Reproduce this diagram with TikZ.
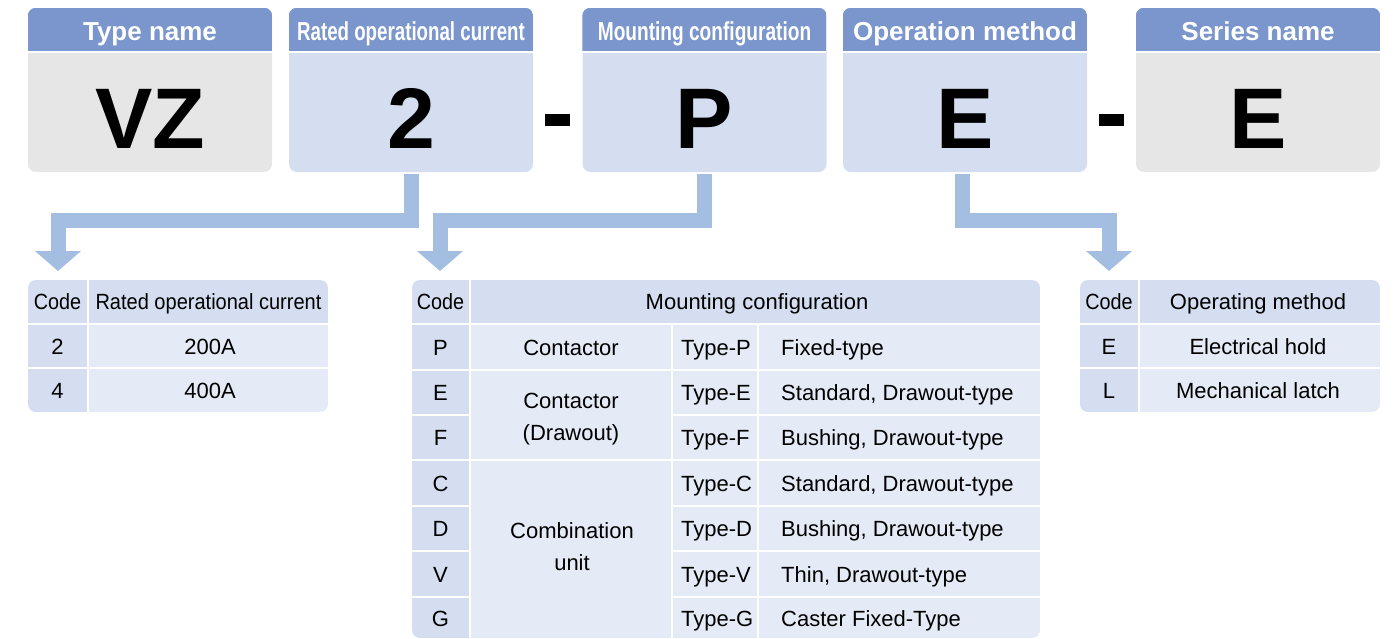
\documentclass[tikz,border=0pt]{standalone}
\usepackage{fontspec}
\setmainfont{Liberation Sans}
\usepackage{graphicx}
\usetikzlibrary{arrows.meta}
\definecolor{hdr}{HTML}{7A96CC}
\definecolor{bodyblue}{HTML}{D4DEF0}
\definecolor{bodygray}{HTML}{E6E6E6}
\definecolor{arrowc}{HTML}{A4BEE1}
\definecolor{celldark}{HTML}{D4DEF0}
\definecolor{celllight}{HTML}{E5EBF6}
\tikzset{
  topbox/.style={minimum width=244pt, minimum height=164pt, rounded corners=8pt, inner sep=0pt, draw=none},
  hdrtext/.style={text=white, font=\bfseries\fontsize{26}{30}\selectfont, anchor=base, inner sep=0pt},
  bigtext/.style={font=\bfseries\fontsize{86}{90}\selectfont, anchor=base, inner sep=0pt},
  celltext/.style={font=\fontsize{22}{26}\selectfont, anchor=base, inner sep=0pt},
  lefttext/.style={celltext, anchor=base west},
  dashbar/.style={fill=black, minimum width=25pt, minimum height=12pt, inner sep=0pt},
  bigarrow/.style={draw=arrowc, line width=15pt, -{Triangle[width=45pt,length=20pt]}, line join=miter},
}
\newcommand\tcell[5]{\fill[#5] (#1,#2) rectangle (#3,#4);}
\begin{document}
\begin{tikzpicture}[x=1pt,y=-1pt]
\useasboundingbox (0,0) rectangle (1397,638);

% ---------- top boxes ----------
\foreach \n/\cx/\col in {b1/150/bodygray, b2/411/bodyblue, b3/704.5/bodyblue, b4/965/bodyblue, b5/1258/bodygray}{
  \node[topbox, fill=\col] (\n) at (\cx,90) {};
  \begin{scope}
    \clip[rounded corners=8pt] (\n.south west) rectangle (\n.north east);
    \fill[hdr] (\n.north west) rectangle ([yshift=-43pt]\n.north east);
    \fill[white] ([yshift=-43pt]\n.north west) rectangle ([yshift=-45pt]\n.north east);
  \end{scope}
}
\node[hdrtext] (h1) at (150,40) {Type name};
\node[hdrtext] (h2) at (411,40) {\scalebox{0.72}[1]{Rated operational current}};
\node[hdrtext] (h3) at (704.5,40) {\scalebox{0.735}[1]{Mounting configuration}};
\node[hdrtext] (h4) at (965,40) {Operation method};
\node[hdrtext] (h5) at (1258,40) {Series name};

\node[bigtext] (l1) at (150,148) {VZ};
\node[bigtext] (l2) at (411,148) {2};
\node[bigtext] (l3) at (704.5,148) {P};
\node[bigtext] (l4) at (965,148) {E};
\node[bigtext] (l5) at (1258,148) {E};

\node[dashbar] (d1) at (557.5,120) {};
\node[dashbar] (d2) at (1111,120) {};

% ---------- arrows ----------
\coordinate (a1) at (58,271);
\coordinate (a2) at (440,271);
\coordinate (a3) at (1109,271);
\draw[bigarrow] ([yshift=-2pt]b2.south) -- ++(0,46.5) -| (a1);
\draw[bigarrow] ([yshift=-2pt]b3.south) -- ++(0,46.5) -| (a2);
\draw[bigarrow] ([xshift=-3pt,yshift=-2pt]b4.south) -- ++(0,46.5) -| (a3);

% ---------- table 1 ----------
\begin{scope}
\clip[rounded corners=8pt] (28,280) rectangle (328,412);
\tcell{28}{280}{87}{323}{celldark}
\tcell{89}{280}{328}{323}{celldark}
\tcell{28}{325}{87}{367}{celldark}
\tcell{89}{325}{328}{367}{celllight}
\tcell{28}{369}{87}{412}{celldark}
\tcell{89}{369}{328}{412}{celllight}
\end{scope}
\node[celltext] (t1h1) at (57.5,309.5) {\scalebox{0.9}[1]{Code}};
\node[celltext] (t1h2) at (208.5,309.5) {\scalebox{0.91}[1]{Rated operational current}};
\node[celltext] (t1c1) at (57.5,354) {2};
\node[celltext] (t1v1) at (210,354) {200A};
\node[celltext] (t1c2) at (57.5,398.5) {4};
\node[celltext] (t1v2) at (210,398.5) {400A};

% ---------- table 3 ----------
\begin{scope}
\clip[rounded corners=8pt] (1080,280) rectangle (1380,412);
\tcell{1080}{280}{1138}{323}{celldark}
\tcell{1140}{280}{1380}{323}{celldark}
\tcell{1080}{325}{1138}{367}{celldark}
\tcell{1140}{325}{1380}{367}{celllight}
\tcell{1080}{369}{1138}{412}{celldark}
\tcell{1140}{369}{1380}{412}{celllight}
\end{scope}
\node[celltext] (t3h1) at (1109,309.5) {\scalebox{0.9}[1]{Code}};
\node[celltext] (t3h2) at (1258,309.5) {Operating method};
\node[celltext] (t3c1) at (1109,354) {E};
\node[celltext] (t3v1) at (1258,354) {Electrical hold};
\node[celltext] (t3c2) at (1109,398.5) {L};
\node[celltext] (t3v2) at (1258,398.5) {Mechanical latch};

% ---------- table 2 ----------
\begin{scope}
\clip[rounded corners=8pt] (412,280) rectangle (1040,638);
\tcell{412}{280}{469}{323}{celldark}
\tcell{471}{280}{1040}{323}{celldark}
\foreach \ya/\yb in {325/369, 371/414, 416/459, 461/505, 507/550, 552/596, 598/638}{
  \tcell{412}{\ya}{469}{\yb}{celldark}
  \tcell{673}{\ya}{757}{\yb}{celllight}
  \tcell{759}{\ya}{1040}{\yb}{celllight}
}
\tcell{471}{325}{671}{369}{celllight}
\tcell{471}{371}{671}{459}{celllight}
\tcell{471}{461}{671}{638}{celllight}
\end{scope}
\node[celltext] (t2h1) at (440.5,309.5) {\scalebox{0.9}[1]{Code}};
\node[celltext] (t2h2) at (757,309.5) {Mounting configuration};

\node[celltext] (t2cP) at (440.5,355) {P};
\node[celltext] (t2cE) at (440.5,400.5) {E};
\node[celltext] (t2cF) at (440.5,445.5) {F};
\node[celltext] (t2cC) at (440.5,491) {C};
\node[celltext] (t2cD) at (440.5,536.5) {D};
\node[celltext] (t2cV) at (440.5,582) {V};
\node[celltext] (t2cG) at (440.5,626) {G};

\node[celltext] (t2k1) at (571,355) {Contactor};
\node[celltext] (t2k2a) at (571,408) {Contactor};
\node[celltext] (t2k2b) at (571,440) {(Drawout)};
\node[celltext] (t2k3a) at (572,538) {Combination};
\node[celltext] (t2k3b) at (572,570) {unit};

\node[lefttext] (t2tP) at (681,355) {Type-P};
\node[lefttext] (t2tE) at (681,400.5) {Type-E};
\node[lefttext] (t2tF) at (681,445.5) {Type-F};
\node[lefttext] (t2tC) at (681,491) {Type-C};
\node[lefttext] (t2tD) at (681,536.5) {Type-D};
\node[lefttext] (t2tV) at (681,582) {Type-V};
\node[lefttext] (t2tG) at (681,626) {Type-G};

\node[lefttext] (t2dP) at (781,355) {Fixed-type};
\node[lefttext] (t2dE) at (781,400.5) {Standard, Drawout-type};
\node[lefttext] (t2dF) at (781,445.5) {Bushing, Drawout-type};
\node[lefttext] (t2dC) at (781,491) {Standard, Drawout-type};
\node[lefttext] (t2dD) at (781,536.5) {Bushing, Drawout-type};
\node[lefttext] (t2dV) at (781,582) {Thin, Drawout-type};
\node[lefttext] (t2dG) at (781,626) {Caster Fixed-Type};
\end{tikzpicture}
\end{document}
